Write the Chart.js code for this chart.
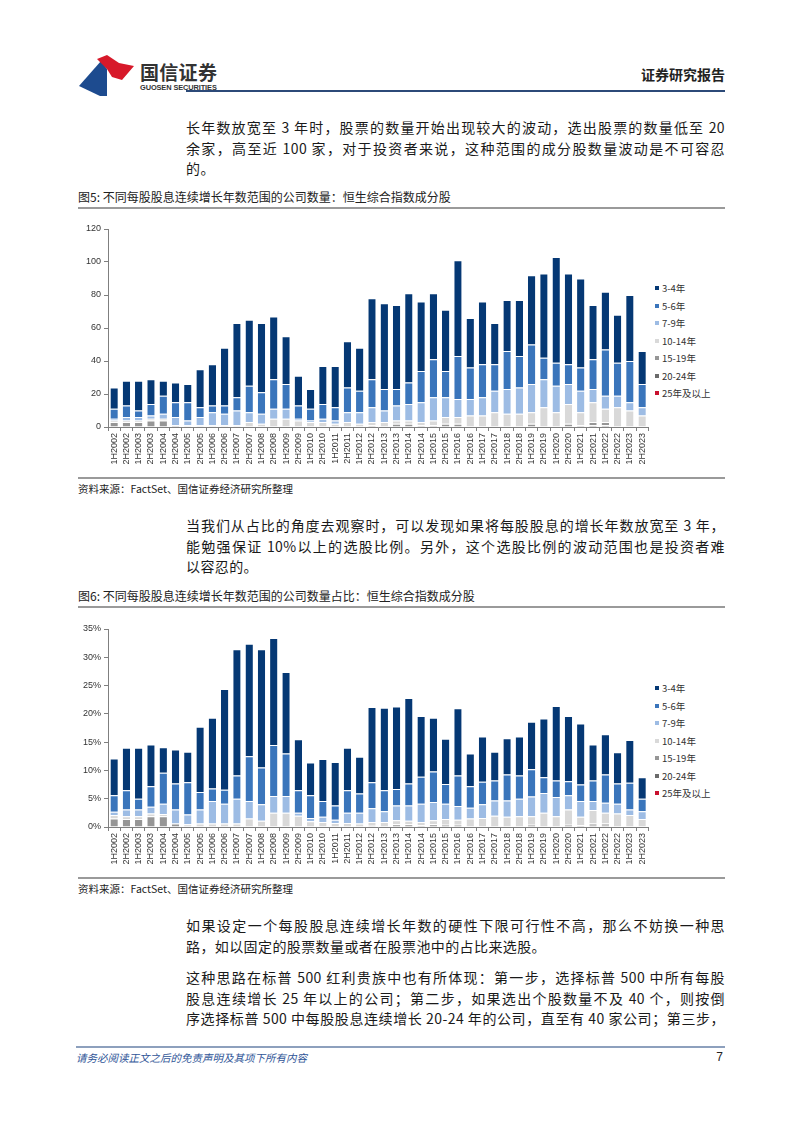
<!DOCTYPE html>
<html lang="zh-CN">
<head>
<meta charset="utf-8">
<title>不同每股股息连续增长年数范围的公司数量</title>
<script src="https://cdn.jsdelivr.net/npm/chart.js@4.4.1/dist/chart.umd.min.js"></script>
<style>
    html, body { margin: 0; padding: 0; background: #fff; }
    body {
        position: relative;
        width: 802px;
        height: 1133px;
        overflow: hidden;
        font-family: "Noto Sans CJK SC", "Noto Sans", sans-serif;
        color: #1a1a1a;
    }
    .abs { position: absolute; }
    .brand { left: 140px; top: 58px; font-size: 19px; font-weight: bold; color: #333; letter-spacing: 0.3px; }
    .brand-en { left: 140px; top: 83px; font-family: "Liberation Sans", sans-serif; font-size: 7.4px; font-weight: bold; color: #333; letter-spacing: -0.1px; }
    .report { right: 77px; top: 64px; font-size: 14px; font-weight: bold; color: #222; }
    .rule-blue { left: 186px; width: 539px; top: 90px; height: 2px; background: #2c4a78; }
    .para { left: 186px; width: 539px; font-size: 14px; line-height: 20.5px; letter-spacing: 0.4px; }
    .para div { white-space: nowrap; }
    .para div.full { text-align: justify; text-align-last: justify; }
    .caption { left: 78px; font-size: 12px; color: #222; }
    .rule-gray { left: 78px; width: 647px; height: 2px; background: #9a9a9a; }
    .source { left: 78px; font-size: 10.5px; color: #222; }
    .legend { left: 655px; font-size: 9.5px; color: #333; }
    .legend .item { height: 17.5px; line-height: 17.5px; white-space: nowrap; }
    .legend .box { display: inline-block; width: 4px; height: 4px; margin-right: 3px; vertical-align: middle; position: relative; top: -1px; }
    .footer-rule { left: 76px; width: 649px; top: 1046px; height: 1.5px; background: #8da0bd; }
    .footer { left: 76px; top: 1050px; font-size: 10.5px; font-style: italic; color: #2f5597; }
    .page-no { right: 79px; top: 1050px; font-family: "Liberation Sans", sans-serif; font-size: 12px; color: #222; }
</style>
</head>
<body>

<!-- header -->
<svg class="abs" style="left:76px;top:52px" width="62" height="46" viewBox="0 0 62 46">
    <path d="M3,34 L25,9 L31,17 L31,44 L24,44 Z" fill="#1d4b8f"/>
    <path d="M21,7 L31,3 L43,11 L58,14 L46,28 L36,25 L31,17 Z" fill="#d7192a"/>
</svg>
<div class="abs brand">国信证券</div>
<div class="abs brand-en">GUOSEN SECURITIES</div>
<div class="abs report">证券研究报告</div>
<div class="abs rule-blue"></div>

<div class="abs para" style="top:117px">
    <div class="full">长年数放宽至 3 年时，股票的数量开始出现较大的波动，选出股票的数量低至 20</div>
    <div class="full">余家，高至近 100 家，对于投资者来说，这种范围的成分股数量波动是不可容忍</div>
    <div>的。</div>
</div>

<!-- figure 5 -->
<div class="abs caption" style="top:188px">图5: 不同每股股息连续增长年数范围的公司数量：恒生综合指数成分股</div>
<div class="abs rule-gray" style="top:207px"></div>
<div class="abs" style="left:70px;top:220px;width:585px;height:255px"><canvas id="countChart"></canvas></div>
<div class="abs legend" id="countLegend" style="top:280px"></div>
<div class="abs rule-gray" style="top:477px"></div>
<div class="abs source" style="top:481px">资料来源：FactSet、国信证券经济研究所整理</div>

<div class="abs para" style="top:515px">
    <div class="full">当我们从占比的角度去观察时，可以发现如果将每股股息的增长年数放宽至 3 年，</div>
    <div class="full">能勉强保证 10%以上的选股比例。另外，这个选股比例的波动范围也是投资者难</div>
    <div>以容忍的。</div>
</div>

<!-- figure 6 -->
<div class="abs caption" style="top:587px">图6: 不同每股股息连续增长年数范围的公司数量占比：恒生综合指数成分股</div>
<div class="abs rule-gray" style="top:606px"></div>
<div class="abs" style="left:70px;top:620px;width:585px;height:255px"><canvas id="ratioChart"></canvas></div>
<div class="abs legend" id="ratioLegend" style="top:680px"></div>
<div class="abs rule-gray" style="top:877px"></div>
<div class="abs source" style="top:881px">资料来源：FactSet、国信证券经济研究所整理</div>

<div class="abs para" style="top:915px">
    <div class="full">如果设定一个每股股息连续增长年数的硬性下限可行性不高，那么不妨换一种思</div>
    <div>路，如以固定的股票数量或者在股票池中的占比来选股。</div>
</div>
<div class="abs para" style="top:967px">
    <div class="full">这种思路在标普 500 红利贵族中也有所体现：第一步，选择标普 500 中所有每股</div>
    <div class="full">股息连续增长 25 年以上的公司；第二步，如果选出个股数量不及 40 个，则按倒</div>
    <div class="full">序选择标普 500 中每股股息连续增长 20-24 年的公司，直至有 40 家公司；第三步，</div>
</div>

<!-- footer -->
<div class="abs footer-rule"></div>
<div class="abs footer">请务必阅读正文之后的免责声明及其项下所有内容</div>
<div class="abs page-no">7</div>

<script>
// Half-year periods on the x axis
const periods = [
    '1H2002', '2H2002', '1H2003', '2H2003', '1H2004', '2H2004', '1H2005', '2H2005',
    '1H2006', '2H2006', '1H2007', '2H2007', '1H2008', '2H2008', '1H2009', '2H2009',
    '1H2010', '2H2010', '1H2011', '2H2011', '1H2012', '2H2012', '1H2013', '2H2013',
    '1H2014', '2H2014', '1H2015', '2H2015', '1H2016', '2H2016', '1H2017', '2H2017',
    '1H2018', '2H2018', '1H2019', '2H2019', '1H2020', '2H2020', '1H2021', '2H2021',
    '1H2022', '2H2022', '1H2023', '2H2023'
];

// Series names, bottom of the stack first
const seriesNames = ['25年及以上', '20-24年', '15-19年', '10-14年', '7-9年', '5-6年', '3-4年'];

// Figure 5: number of companies
const cnt25   = [0,0,0,0,0,0,0,0,0,0,0,0,0,0,0,0,0,0,0,0,0,0,0,0,0,0,0,0,0,0,0,0,0,0,0,0,0,0,0,0,0,0,0,0];
const cnt2024 = [0,0,0,0,0,0,0,0,0,0,0,0,0,0,0,0,0,0,0,0,0,0,0,0,0,0,0,0,0,0,0,0,0,0,0,0,0,0,0,1,1,0,0,0];
const cnt1519 = [3,3,3,4,4,1,0,0,0,0,0,0,0,0,0,0,0,0,0,0,0,1,0,2,2,1,1,2,2,0,0,0,0,0,2,0,0,2,1,2,2,0,0,0];
const cnt1014 = [1,1,1,1,1,0,1,1,1,1,1,3,2,5,5,4,3,3,2,3,2,2,3,2,2,2,3,4,4,7,7,9,8,8,7,12,9,12,8,12,8,12,10,7];
const cnt79   = [1,2,2,2,3,5,3,5,8,7,9,6,6,6,6,1,1,2,2,6,7,9,7,9,10,12,14,12,11,10,11,13,15,16,17,17,16,12,13,8,8,7,5,5];
const cnt56   = [6,7,4,7,11,9,11,6,4,5,8,16,13,18,15,8,7,9,8,15,13,17,13,10,13,19,23,16,26,19,20,16,23,19,24,13,14,12,14,18,28,20,25,14];
const cnt34   = [13,15,18,15,9,12,11,23,25,35,45,40,42,38,29,18,12,23,25,28,26,49,52,51,54,42,40,37,58,30,38,25,31,34,42,51,64,55,54,33,35,29,40,20];

// Figure 6: share of index constituents (%)
const pct25   = [0,0,0,0,0,0,0,0,0,0,0,0,0,0,0,0,0,0,0,0,0,0,0,0,0,0,0,0,0,0,0,0,0,0,0,0,0,0,0,0,0,0,0,0];
const pct2024 = [0,0,0,0,0,0,0,0,0,0,0,0,0,0,0,0,0,0,0,0,0,0,0,0,0,0,0,0,0,0,0,0,0,0,0,0,0,0,0,0.2,0.2,0,0,0];
const pct1519 = [1.5,1.4,1.4,1.9,1.9,0.6,0,0,0,0,0,0,0,0,0,0,0,0,0,0,0,0.2,0,0.5,0.5,0.3,0.5,0.4,0.4,0,0,0,0,0,0.4,0,0,0.4,0.3,0.4,0.4,0,0,0];
const pct1014 = [0.6,0.5,0.5,0.5,0.4,0,0.5,0.6,0.6,0.6,0.6,1.5,1.1,2.5,2.5,2.0,1.0,0.9,0.7,0.7,0.6,0.7,0.9,0.7,0.6,0.6,0.7,1.0,0.9,1.5,1.6,2.0,1.8,1.9,1.5,2.5,1.9,2.7,1.5,2.4,1.9,2.4,2.1,1.4];
const pct79   = [0.6,1.2,1.2,1.2,1.8,2.5,1.7,2.5,4.0,3.5,4.4,3.1,2.9,3.0,3.0,0.5,0.6,0.9,0.6,1.8,1.9,2.4,1.9,2.6,2.7,3.2,3.2,2.7,2.4,1.9,2.4,2.7,2.9,3.1,3.5,3.5,3.4,2.5,2.8,1.6,1.8,1.7,1.0,1.4];
const pct56   = [2.9,3.4,1.9,3.6,5.5,4.6,5.7,3.1,2.2,2.5,4.1,7.9,6.5,9.0,7.5,4.0,4.0,2.8,2.5,4.0,3.4,4.6,3.7,2.9,3.9,4.8,5.4,3.5,5.4,3.8,4.0,3.5,4.6,4.1,4.8,2.8,2.9,2.5,2.9,3.6,5.0,3.6,4.7,2.2];
const pct34   = [6.5,7.5,9.0,7.4,4.5,6.0,5.4,11.5,12.5,17.8,22.3,19.9,20.9,18.9,14.4,9.0,5.8,7.4,7.7,7.5,6.5,13.3,14.6,14.6,15.1,10.7,9.5,8.0,11.9,5.8,8.0,5.1,6.4,6.9,8.4,10.4,13.2,11.5,10.8,6.4,7.1,5.5,7.6,3.8];

const SERIES_COLORS = ['#c8102e', '#6b6b6b', '#969696', '#d9d9d9', '#9dbce4', '#3a75bb', '#053874'];

Chart.defaults.font.family = '"Liberation Sans", Arial, sans-serif';
Chart.defaults.font.size = 9;
Chart.defaults.color = '#333';

/**
 * Build stacked bar datasets in series order
 */
function buildDatasets(seriesData) {
    return seriesData.map((values, i) => ({
        label: seriesNames[i],
        data: values,
        backgroundColor: SERIES_COLORS[i],
        borderColor: 'rgba(255,255,255,0.75)',
        borderWidth: { top: 1, bottom: 0, left: 0, right: 0 },
        borderSkipped: false,
        categoryPercentage: 1,
        barPercentage: 0.6
    }));
}

/**
 * Create one stacked bar chart
 */
function createStackedChart(canvasId, legendId, seriesData, yMax, yStep, tickFormat) {
    const ctx = document.getElementById(canvasId);
    const datasets = buildDatasets(seriesData);

    new Chart(ctx, {
        type: 'bar',
        data: { labels: periods, datasets: datasets },
        options: {
            responsive: true,
            maintainAspectRatio: false,
            animation: false,
            layout: { padding: { top: 9, right: 5, left: 0, bottom: 0 } },
            plugins: {
                legend: { display: false },
                tooltip: { enabled: false }
            },
            scales: {
                x: {
                    stacked: true,
                    grid: { drawOnChartArea: false, drawTicks: true, tickLength: 4, color: '#7f7f7f' },
                    border: { color: '#7f7f7f' },
                    ticks: { minRotation: 90, maxRotation: 90, autoSkip: false, padding: 2, color: '#333' },
                    afterFit(scale) { scale.height = 48; }
                },
                y: {
                    stacked: true,
                    min: 0,
                    max: yMax,
                    grid: { drawOnChartArea: false, drawTicks: true, tickLength: 4, color: '#7f7f7f' },
                    border: { color: '#7f7f7f' },
                    ticks: { stepSize: yStep, padding: 3, color: '#333', callback: tickFormat },
                    afterFit(scale) { scale.width = 38; }
                }
            }
        }
    });

    // legend on the right, top series first
    const legend = document.getElementById(legendId);
    datasets.slice().reverse().forEach(ds => {
        const item = document.createElement('div');
        item.className = 'item';
        item.innerHTML = '<span class="box" style="background:' + ds.backgroundColor + '"></span>' + ds.label;
        legend.appendChild(item);
    });
}

createStackedChart('countChart', 'countLegend',
    [cnt25, cnt2024, cnt1519, cnt1014, cnt79, cnt56, cnt34], 120, 20, v => v);

createStackedChart('ratioChart', 'ratioLegend',
    [pct25, pct2024, pct1519, pct1014, pct79, pct56, pct34], 35, 5, v => v + '%');
</script>
</body>
</html>
